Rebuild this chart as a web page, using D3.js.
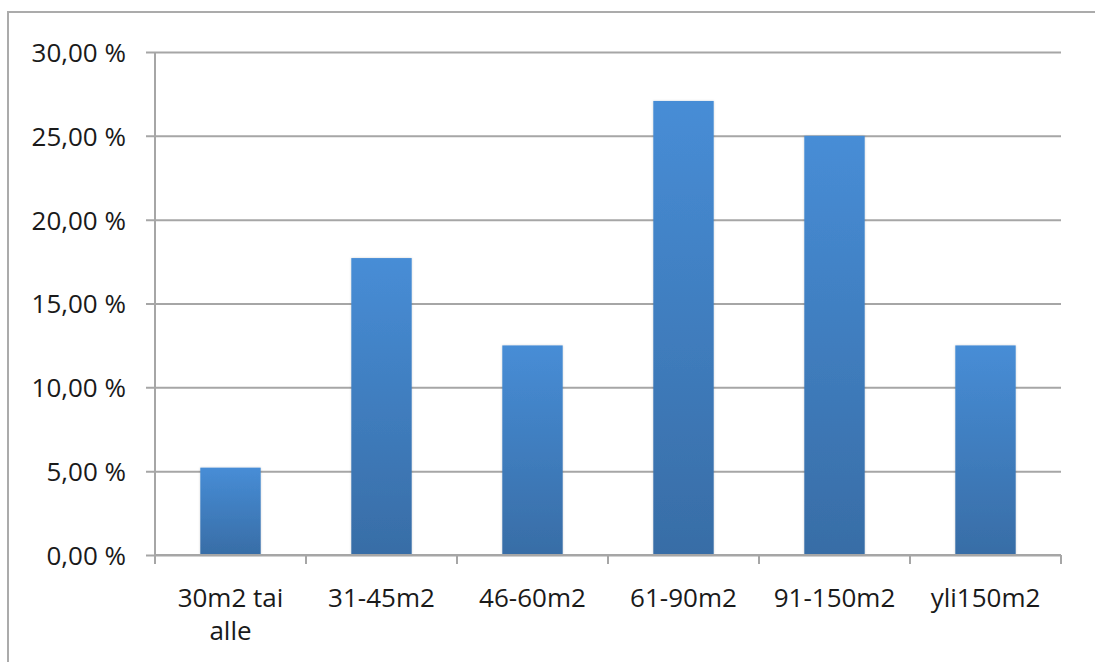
<!DOCTYPE html>
<html>
<head>
<meta charset="utf-8">
<script src="https://cdn.jsdelivr.net/npm/d3@7"></script>
<style>
  html, body { margin: 0; padding: 0; background: #fff; }
  svg { display: block; font-family: "Open Sans", sans-serif; }
</style>
</head>
<body>
<svg id="chart" width="1095" height="662"></svg>
<script>
// Share of dwellings by floor area
const categories = ["30m2 tai alle", "31-45m2", "46-60m2", "61-90m2", "91-150m2", "yli150m2"];
const labelLines = [["30m2 tai", "alle"], ["31-45m2"], ["46-60m2"], ["61-90m2"], ["91-150m2"], ["yli150m2"]];
const shares = [5.21, 17.71, 12.5, 27.08, 25.0, 12.5];
const yTicks = [0, 5, 10, 15, 20, 25, 30];

const svg = d3.select("#chart");
const margin = { left: 155, right: 1061, top: 52, bottom: 555 };

// outer frame
svg.append("rect")
  .attr("x", 8).attr("y", 12)
  .attr("width", 1100).attr("height", 700)
  .attr("fill", "none")
  .attr("stroke", "#ababab")
  .attr("stroke-width", 2);

const x = d3.scaleBand()
  .domain(categories)
  .range([margin.left, margin.right])
  .paddingInner(0.6)
  .paddingOuter(0.3);

const y = d3.scaleLinear()
  .domain([0, 30])
  .range([margin.bottom, margin.top]);

const fmt = v => v.toFixed(2).replace(".", ",") + " %";

// gradient for bars
const defs = svg.append("defs");
const grad = defs.append("linearGradient")
  .attr("id", "barGrad")
  .attr("x1", 0).attr("y1", 0).attr("x2", 0).attr("y2", 1);
grad.append("stop").attr("offset", "0%").attr("stop-color", "#478dd6");
grad.append("stop").attr("offset", "100%").attr("stop-color", "#386da6");

const shadow = defs.append("filter").attr("id", "barShadow")
  .attr("x", "-20%").attr("y", "-5%").attr("width", "140%").attr("height", "110%");
shadow.append("feDropShadow")
  .attr("dx", 0).attr("dy", 0).attr("stdDeviation", 1.2)
  .attr("flood-color", "#000").attr("flood-opacity", 0.18);

// horizontal gridlines with y-axis ticks
const yAxis = d3.axisLeft(y)
  .tickValues(yTicks)
  .tickFormat(fmt)
  .tickSize(-(margin.right - margin.left))
  .tickPadding(0);

const gy = svg.append("g")
  .attr("transform", `translate(${margin.left},0)`)
  .call(yAxis);
gy.select(".domain").remove();
gy.selectAll(".tick line")
  .attr("x1", -9)
  .attr("stroke", "#a6a6a6")
  .attr("stroke-width", 2);
gy.selectAll(".tick text")
  .attr("x", -29)
  .attr("dy", "0.36em")
  .attr("fill", "#1a1a1a")
  .style("font-size", "26px")
  .style("font-family", "'Open Sans', sans-serif");

// vertical axis line
svg.append("line")
  .attr("x1", margin.left).attr("x2", margin.left)
  .attr("y1", margin.top).attr("y2", margin.bottom)
  .attr("stroke", "#a6a6a6").attr("stroke-width", 2);

// bars
svg.append("g")
  .selectAll("rect")
  .data(categories)
  .join("rect")
  .attr("x", d => x(d))
  .attr("width", x.bandwidth())
  .attr("y", (d, i) => y(shares[i]))
  .attr("height", (d, i) => y(0) - y(shares[i]))
  .attr("fill", "url(#barGrad)")
  .attr("filter", "url(#barShadow)");

// horizontal axis with boundary ticks
svg.append("line")
  .attr("x1", margin.left).attr("x2", margin.right)
  .attr("y1", margin.bottom).attr("y2", margin.bottom)
  .attr("stroke", "#a6a6a6").attr("stroke-width", 2);

const step = x.step();
const boundaries = d3.range(categories.length + 1).map(i => margin.left + i * step);
svg.append("g")
  .selectAll("line")
  .data(boundaries)
  .join("line")
  .attr("x1", d => d).attr("x2", d => d)
  .attr("y1", margin.bottom).attr("y2", margin.bottom + 9)
  .attr("stroke", "#a6a6a6").attr("stroke-width", 2);

// category labels
const gx = svg.append("g");
categories.forEach((c, i) => {
  const t = gx.append("text")
    .attr("x", x(c) + x.bandwidth() / 2)
    .attr("y", 607)
    .attr("text-anchor", "middle")
    .attr("fill", "#1a1a1a")
    .style("font-size", "26px");
  labelLines[i].forEach((line, j) => {
    t.append("tspan")
      .attr("x", x(c) + x.bandwidth() / 2)
      .attr("dy", j === 0 ? 0 : 33)
      .text(line);
  });
});
</script>
</body>
</html>
